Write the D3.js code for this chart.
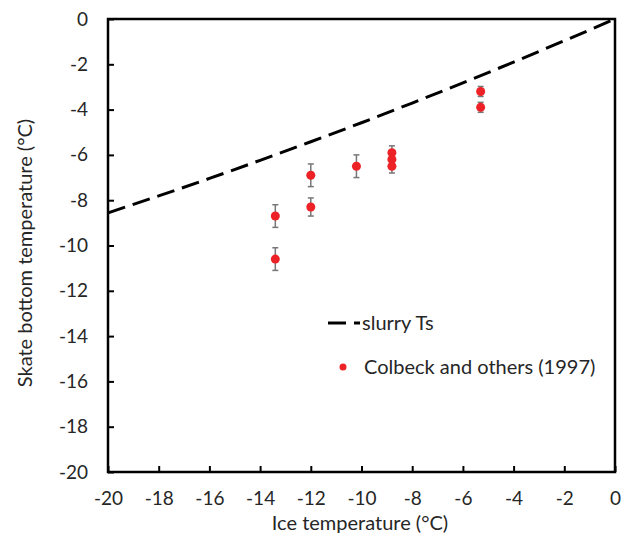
<!DOCTYPE html>
<html>
<head>
<meta charset="utf-8">
<script src="https://cdn.jsdelivr.net/npm/d3@7"></script>
<style>
  body { margin: 0; background: #fff; }
  svg text { font-family: Lato, "Open Sans", sans-serif; fill: #262626; }
</style>
</head>
<body>
<svg id="svg" width="630" height="542"></svg>
<script>
var iceTemp   = [-13.4, -13.4, -12.0, -12.0, -10.2, -8.8, -8.8, -8.8, -5.3, -5.3];
var skateTemp = [-8.7, -10.6, -6.9, -8.3, -6.5, -5.9, -6.2, -6.5, -3.2, -3.9];
var errBar    = [0.5, 0.5, 0.5, 0.4, 0.5, 0.3, 0.3, 0.3, 0.22, 0.22];

// slurry Ts curve
var slurryX = [-20, -18, -16, -14, -12, -10, -8, -6, -4, -2, 0];
var slurryY = [-8.56, -7.81, -7.04, -6.24, -5.42, -4.58, -3.71, -2.82, -1.90, -0.96, 0];

var xTicks = [-20, -18, -16, -14, -12, -10, -8, -6, -4, -2, 0];
var yTicks = [0, -2, -4, -6, -8, -10, -12, -14, -16, -18, -20];

var svg = d3.select('#svg');

var mLeft = 108, mRight = 615, mTop = 19, mBottom = 472;

var x = d3.scaleLinear().domain([-20, 0]).range([mLeft, mRight]);
var y = d3.scaleLinear().domain([-20, 0]).range([mBottom, mTop]);

var fmt = function(d) { return String(d); };

// axes, ticks inward
var xAxis = d3.axisBottom(x).tickValues(xTicks).tickFormat(fmt).tickSizeInner(-6).tickSizeOuter(0).tickPadding(20);
var yAxis = d3.axisLeft(y).tickValues(yTicks).tickFormat(fmt).tickSizeInner(-6).tickSizeOuter(0).tickPadding(20);

var gx = svg.append('g').attr('transform', 'translate(0,' + mBottom + ')').call(xAxis);
var gy = svg.append('g').attr('transform', 'translate(' + mLeft + ',0)').call(yAxis);
[gx, gy].forEach(function(g) {
  g.select('.domain').remove();
  g.selectAll('.tick line').attr('stroke', '#000').attr('stroke-width', 2);
  g.selectAll('.tick text').attr('font-size', 19).attr('fill', '#262626')
    .attr('font-family', 'Lato, sans-serif');
});

// frame
svg.append('rect')
  .attr('x', mLeft).attr('y', mTop)
  .attr('width', mRight - mLeft).attr('height', mBottom - mTop)
  .attr('fill', 'none').attr('stroke', '#000').attr('stroke-width', 2.5);

// slurry line
var line = d3.line().x(function(d, i) { return x(slurryX[i]); }).y(function(d) { return y(d); }).curve(d3.curveMonotoneX);
svg.append('path')
  .datum(slurryY)
  .attr('d', line)
  .attr('fill', 'none')
  .attr('stroke', '#000')
  .attr('stroke-width', 3)
  .attr('stroke-dasharray', '18,8');

// error bars
var pts = iceTemp.map(function(t, i) { return {x: t, y: skateTemp[i], e: errBar[i]}; });
var eb = svg.selectAll('g.err').data(pts).enter().append('g').attr('class', 'err')
  .attr('stroke', '#777').attr('stroke-width', 1.5);
eb.append('line')
  .attr('x1', function(d) { return x(d.x); }).attr('x2', function(d) { return x(d.x); })
  .attr('y1', function(d) { return y(d.y + d.e); }).attr('y2', function(d) { return y(d.y - d.e); });
eb.append('line')
  .attr('x1', function(d) { return x(d.x) - 3; }).attr('x2', function(d) { return x(d.x) + 3; })
  .attr('y1', function(d) { return y(d.y + d.e); }).attr('y2', function(d) { return y(d.y + d.e); });
eb.append('line')
  .attr('x1', function(d) { return x(d.x) - 3; }).attr('x2', function(d) { return x(d.x) + 3; })
  .attr('y1', function(d) { return y(d.y - d.e); }).attr('y2', function(d) { return y(d.y - d.e); });

svg.selectAll('circle.data').data(pts).enter().append('circle')
  .attr('class', 'data')
  .attr('cx', function(d) { return x(d.x); })
  .attr('cy', function(d) { return y(d.y); })
  .attr('r', 4.5)
  .attr('fill', '#ec2227');

// legend
svg.append('line').attr('x1', 328).attr('x2', 346).attr('y1', 323).attr('y2', 323)
  .attr('stroke', '#000').attr('stroke-width', 3);
svg.append('line').attr('x1', 354).attr('x2', 360).attr('y1', 323).attr('y2', 323)
  .attr('stroke', '#000').attr('stroke-width', 3);
svg.append('text').attr('x', 362).attr('y', 330).attr('font-size', 20).text('slurry Ts');
svg.append('circle').attr('cx', 343).attr('cy', 367).attr('r', 3.5).attr('fill', '#ec2227');
svg.append('text').attr('x', 364).attr('y', 374).attr('font-size', 20).text('Colbeck and others (1997)');

// axis titles
svg.append('text').attr('x', 360).attr('y', 530)
  .attr('text-anchor', 'middle').attr('font-size', 20).text('Ice temperature (°C)');
svg.append('text')
  .attr('transform', 'translate(32,253) rotate(-90)')
  .attr('text-anchor', 'middle').attr('font-size', 20).text('Skate bottom temperature (°C)');
</script>
</body>
</html>
